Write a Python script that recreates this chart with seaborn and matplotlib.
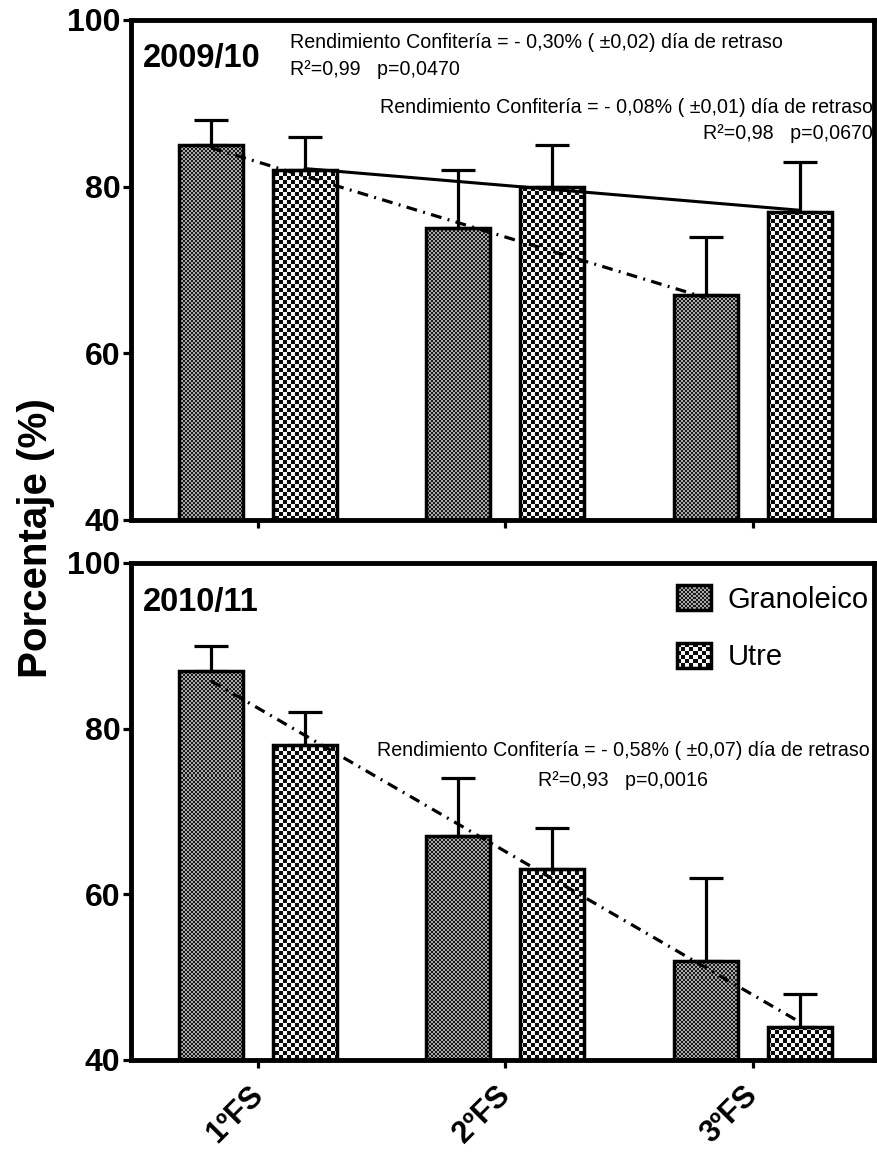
import numpy as np
import pandas as pd
import matplotlib
matplotlib.use("Agg")
import matplotlib.pyplot as plt
import seaborn as sns
from matplotlib.colors import to_rgb
from matplotlib.patches import Rectangle
from matplotlib.legend_handler import HandlerBase
from matplotlib.image import BboxImage
from matplotlib.transforms import Bbox, TransformedBbox, ScaledTranslation

# ---- data -------------------------------------------------------------
fases = ["1ºFS", "2ºFS", "3ºFS"]
variedades = ["Granoleico", "Utre"]

gran_0910 = [85, 75, 67]
gran_0910_err = [3, 7, 7]
utre_0910 = [82, 80, 77]
utre_0910_err = [4, 5, 6]

gran_1011 = [87, 67, 52]
gran_1011_err = [3, 7, 10]
utre_1011 = [78, 63, 44]
utre_1011_err = [4, 5, 4]

yticks = [40, 60, 80, 100]

campanas = ["2009/10", "2010/11"]
eq_0910_gran = ["Rendimiento Confitería = - 0,30% ( ±0,02) día de retraso",
                "R²=0,99   p=0,0470"]
eq_0910_utre = ["Rendimiento Confitería = - 0,08% ( ±0,01) día de retraso",
                "R²=0,98   p=0,0670"]
eq_1011 = ["Rendimiento Confitería = - 0,58% ( ±0,07) día de retraso",
           "R²=0,93   p=0,0016"]

# ---- style ------------------------------------------------------------
sns.set_style("ticks")
plt.rcParams["font.family"] = ["Liberation Sans", "DejaVu Sans"]
for key in ("text.color", "axes.labelcolor", "xtick.color", "ytick.color",
            "axes.edgecolor"):
    plt.rcParams[key] = "black"
DPI = 100
EQ_SIZE = 14.1

TEX = {
    "Granoleico": dict(cell=2, dark="#1a1a1a", light="#a8a8a8"),
    "Utre": dict(cell=4, dark="#0a0a0a", light="#f6f6f6"),
}


def checker(h, w, cell, dark, light):
    yy, xx = np.mgrid[0:h, 0:w]
    m = ((yy // cell + xx // cell) % 2).astype(bool)
    out = np.empty((h, w, 3))
    out[:] = to_rgb(dark)
    out[m] = to_rgb(light)
    return out


class TextureHandler(HandlerBase):
    """Legend key filled with the same checker texture as the bars."""

    def __init__(self, spec):
        super().__init__()
        self.spec = spec

    def create_artists(self, legend, orig_handle, xdescent, ydescent,
                       width, height, fontsize, trans):
        box = TransformedBbox(Bbox.from_bounds(-xdescent, -ydescent, width, height), trans)
        img = BboxImage(box, interpolation="nearest")
        w_px = max(int(round(width * DPI / 72)), 2)
        h_px = max(int(round(height * DPI / 72)), 2)
        img.set_data(checker(h_px, w_px, **self.spec))
        frame = Rectangle((-xdescent, -ydescent), width, height,
                          facecolor="none", edgecolor="black",
                          linewidth=2.5, transform=trans)
        return [img, frame]


fig = plt.figure(figsize=(8.77, 11.55), dpi=DPI)
ax1 = fig.add_axes([0.1494, 0.5498, 0.8472, 0.4329])
ax2 = fig.add_axes([0.1494, 0.0823, 0.8472, 0.4303])

XLIM = (-0.513, 2.49)


def panel(ax, gran, gran_err, utre, utre_err):
    df = pd.DataFrame({
        "fase": fases * 2,
        "variedad": [variedades[0]] * len(fases) + [variedades[1]] * len(fases),
        "valor": list(gran) + list(utre),
    })
    sns.barplot(data=df, x="fase", y="valor", hue="variedad",
                order=fases, hue_order=variedades,
                width=0.76, gap=0.32, errorbar=None,
                palette=["#555555", "#aaaaaa"], edgecolor="black",
                linewidth=2.5, legend=False, ax=ax)
    ax.set_xlim(*XLIM)
    ax.set_ylim(40, 100)

    centers = {}
    for name, cont, vals, errs in zip(variedades, ax.containers,
                                      [gran, utre], [gran_err, utre_err]):
        patches = sorted(cont.patches, key=lambda p: p.get_x())
        xs = [p.get_x() + p.get_width() / 2 for p in patches]
        centers[name] = xs
        ax.errorbar(xs, vals, yerr=[np.zeros(len(errs)), errs], fmt="none",
                    ecolor="black", elinewidth=2.3, capsize=12, capthick=2.3,
                    zorder=2.5)

    # checker textures clipped to each bar
    bb = ax.get_window_extent()
    H, W = int(round(bb.height)), int(round(bb.width))
    x0, x1 = ax.get_xlim()
    y0, y1 = ax.get_ylim()
    for name, cont in zip(variedades, ax.containers):
        tex = checker(H, W, **TEX[name])
        for p in cont.patches:
            p.set_facecolor("none")
            p.set_zorder(2)
            im = ax.imshow(tex, extent=(x0, x1, y0, y1), origin="upper",
                           interpolation="nearest", aspect="auto", zorder=1.5)
            im.set_clip_path(p)
    ax.set_xlim(x0, x1)
    ax.set_ylim(y0, y1)

    ax.set_xlabel("")
    ax.set_ylabel("")
    ax.set_xticks(range(len(fases)))
    ax.set_yticks(yticks)
    ax.set_yticklabels([str(t) for t in yticks], fontsize=23, fontweight="bold")
    ax.tick_params(axis="y", length=6, width=2.3, pad=1.5, direction="out")
    ax.tick_params(axis="x", length=6, width=2.3, direction="out")
    for s in ax.spines.values():
        s.set_visible(True)
        s.set_linewidth(3.5)
        s.set_color("black")
    return centers


def trend(ax, xs, ys, **kw):
    xs = np.asarray(xs, dtype=float)
    b, a = np.polyfit(xs, ys, 1)
    xx = np.array([xs.min(), xs.max()])
    ax.plot(xx, a + b * xx, color="black", zorder=3, **kw)


DASHDOT = (0, (3.4, 2.0, 0.6, 2.0))

# ---- 2009/10 ----------------------------------------------------------
c1 = panel(ax1, gran_0910, gran_0910_err, utre_0910, utre_0910_err)
trend(ax1, c1["Granoleico"], gran_0910, linewidth=2.3, linestyle=DASHDOT)
trend(ax1, c1["Utre"], utre_0910, linewidth=2.2, linestyle="-")
ax1.set_xticklabels([])

ax1.text(0.016, 0.923, campanas[0], transform=ax1.transAxes, fontsize=23.5,
         fontweight="bold", ha="left", va="center")
ax1.text(0.214, 0.954, eq_0910_gran[0], transform=ax1.transAxes, fontsize=EQ_SIZE,
         ha="left", va="center")
ax1.text(0.214, 0.900, eq_0910_gran[1], transform=ax1.transAxes, fontsize=EQ_SIZE,
         ha="left", va="center")
ax1.text(0.9987, 0.824, eq_0910_utre[0], transform=ax1.transAxes, fontsize=EQ_SIZE,
         ha="right", va="center")
ax1.text(0.9987, 0.772, eq_0910_utre[1], transform=ax1.transAxes, fontsize=EQ_SIZE,
         ha="right", va="center")

# ---- 2010/11 ----------------------------------------------------------
c2 = panel(ax2, gran_1011, gran_1011_err, utre_1011, utre_1011_err)
all_x = list(c2["Granoleico"]) + list(c2["Utre"])
all_y = list(gran_1011) + list(utre_1011)
trend(ax2, all_x, all_y, linewidth=2.3, linestyle=DASHDOT)
ax2.set_xticklabels(fases, rotation=45, ha="right", va="top",
                    rotation_mode="anchor", fontsize=22, fontweight="bold")
shift = ScaledTranslation(-0.10, -0.07, fig.dpi_scale_trans)
for lab in ax2.get_xticklabels():
    lab.set_transform(lab.get_transform() + shift)

ax2.text(0.016, 0.92, campanas[1], transform=ax2.transAxes, fontsize=23.5,
         fontweight="bold", ha="left", va="center")
ax2.text(0.662, 0.622, eq_1011[0], transform=ax2.transAxes, fontsize=EQ_SIZE,
         ha="center", va="center")
ax2.text(0.662, 0.563, eq_1011[1], transform=ax2.transAxes, fontsize=EQ_SIZE,
         ha="center", va="center")

handles = [Rectangle((0, 0), 1, 1) for _ in variedades]
ax2.legend(handles, variedades,
           handler_map={h: TextureHandler(TEX[n]) for h, n in zip(handles, variedades)},
           loc="upper left", bbox_to_anchor=(0.735, 0.955), frameon=False,
           fontsize=21, handlelength=1.17, handleheight=0.93,
           handletextpad=0.55, labelspacing=1.0, borderpad=0, borderaxespad=0)

fig.text(0.041, 0.534, "Porcentaje (%)", rotation=90, fontsize=29,
         fontweight="bold", ha="center", va="center")

fig.savefig("out.png", dpi=DPI)
